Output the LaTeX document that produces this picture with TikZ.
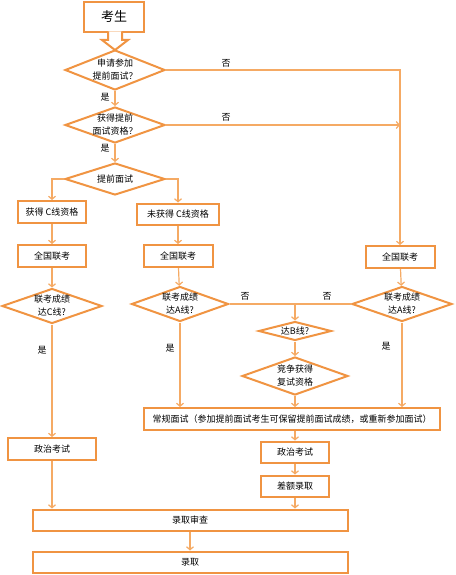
\documentclass[tikz,border=0pt]{standalone}
\usepackage{fontspec}
\setmainfont{Noto Sans CJK SC}
\usetikzlibrary{shapes.geometric,arrows.meta}
\definecolor{flowedge}{RGB}{240,148,66}
\definecolor{flowline}{RGB}{245,170,100}

\tikzset{
  stepbox/.style={rectangle, draw=flowedge, line width=2pt, fill=white,
    inner sep=0pt, font=\fontsize{9}{12}\selectfont},
  decision/.style={diamond, draw=flowedge, line width=2pt, fill=white,
    aspect=2.5, inner xsep=-6pt, inner ysep=-3pt, align=center,
    font=\fontsize{9}{13}\selectfont},
  flow/.style={draw=flowline, line width=1.2pt},
  arr/.style={flow, -{Straight Barb[length=3pt,width=7pt]}},
  yesno/.style={font=\fontsize{9}{10}\selectfont, inner sep=0pt}
}

\begin{document}
\begin{tikzpicture}[x=1pt, y=-1pt]
  \useasboundingbox (0,0) rectangle (455,575);

  % start
  \node[stepbox, minimum width=60, minimum height=30,
        font=\fontsize{13}{15}\selectfont] (start) at (114,17) {考生};

  % early interview branch
  \node[decision, minimum width=100, minimum height=40] (apply) at (115,70) {申请参加\\提前面试？};
  \node[decision, minimum width=100, minimum height=36] (qualify) at (115,125) {获得提前\\面试资格？};
  \node[decision, minimum width=100, minimum height=32] (early) at (115,179) {提前面试};

  % pointer under the start box
  \draw[draw=flowedge, line width=2pt, line join=miter, fill=white]
    (108,31.5) -- (108,40) -- (102,40) -- (115,50) -- (128,40) -- (122,40) -- (122,31.5);

  % columns
  \node[stepbox, minimum width=68, minimum height=22] (cgot) at (52,212) {获得 C线资格};
  \node[stepbox, minimum width=82, minimum height=21] (cnot) at (178,214) {未获得 C线资格};
  \node[stepbox, minimum width=68, minimum height=22] (examL) at (52,256) {全国联考};
  \node[stepbox, minimum width=69, minimum height=22] (examM) at (178,256) {全国联考};
  \node[stepbox, minimum width=69, minimum height=22] (examR) at (400,257) {全国联考};

  \node[decision, minimum width=100, minimum height=35] (lineC) at (52,306) {联考成绩\\达C线?};
  \node[decision, minimum width=97, minimum height=35] (lineAm) at (180,304) {联考成绩\\达A线?};
  \node[decision, minimum width=100, minimum height=35] (lineAr) at (402,304) {联考成绩\\达A线?};
  \node[decision, minimum width=73, minimum height=19] (lineB) at (295,331) {达B线?};
  \node[decision, minimum width=106, minimum height=38] (compete) at (295,376) {竞争获得\\复试资格};

  \node[stepbox, minimum width=296, minimum height=22] (regular) at (292,419)
    {常规面试（参加提前面试考生可保留提前面试成绩，或重新参加面试）};
  \node[stepbox, minimum width=88, minimum height=22] (politicsL) at (52,449) {政治考试};
  \node[stepbox, minimum width=68, minimum height=21] (politicsM) at (295,452) {政治考试};
  \node[stepbox, minimum width=68, minimum height=21] (quota) at (295,486) {差额录取};
  \node[stepbox, minimum width=315, minimum height=21] (review) at (190,520) {录取审查};
  \node[stepbox, minimum width=315, minimum height=21] (admit) at (190,562) {录取};

  % connectors
  \draw[arr] (apply.south) -- (qualify.north);
  \draw[arr] (qualify.south) -- (early.north);
  \draw[arr] (early.west) -| (cgot.north);
  \draw[arr] (early.east) -| (cnot.north);
  \draw[arr] (apply.east) -| (examR.north);
  \draw[arr] (qualify.east) -- (qualify.east -| examR.north);

  \draw[arr] (cgot) -- (examL);
  \draw[arr] (examL) -- (lineC);
  \draw[arr] (lineC.south) -- (politicsL.north);
  \draw[arr] (politicsL.south) -- (politicsL.south |- review.north);

  \draw[arr] (cnot) -- (examM);
  \draw[arr] (examM) -- (lineAm);
  \draw[arr] (lineAm.south) -- (lineAm.south |- regular.north);

  \draw[arr] (examR) -- (lineAr);
  \draw[arr] (lineAr.south) -- (lineAr.south |- regular.north);

  \coordinate (fork) at (lineB.north |- lineAm.east);
  \draw[flow] (lineAm.east) -- (lineAr.west);
  \draw[arr] (fork) -- (lineB.north);
  \draw[arr] (lineB.south) -- (compete.north);
  \draw[arr] (compete.south) -- (compete.south |- regular.north);

  \draw[arr] (politicsM.north |- regular.south) -- (politicsM.north);
  \draw[arr] (politicsM) -- (quota);
  \draw[arr] (quota.south) -- (quota.south |- review.north);
  \draw[arr] (review) -- (admit);

  % yes / no labels
  \node[yesno] (yes1) at (105,97) {是};
  \node[yesno] (yes2) at (105,148) {是};
  \node[yesno] (no1) at (226,63) {否};
  \node[yesno] (no2) at (226,117) {否};
  \node[yesno] (yesC) at (42,350) {是};
  \node[yesno] (yesAm) at (170,348) {是};
  \node[yesno] (yesAr) at (386,346) {是};
  \node[yesno] (noAm) at (245,296) {否};
  \node[yesno] (noAr) at (327,296) {否};
\end{tikzpicture}
\end{document}
